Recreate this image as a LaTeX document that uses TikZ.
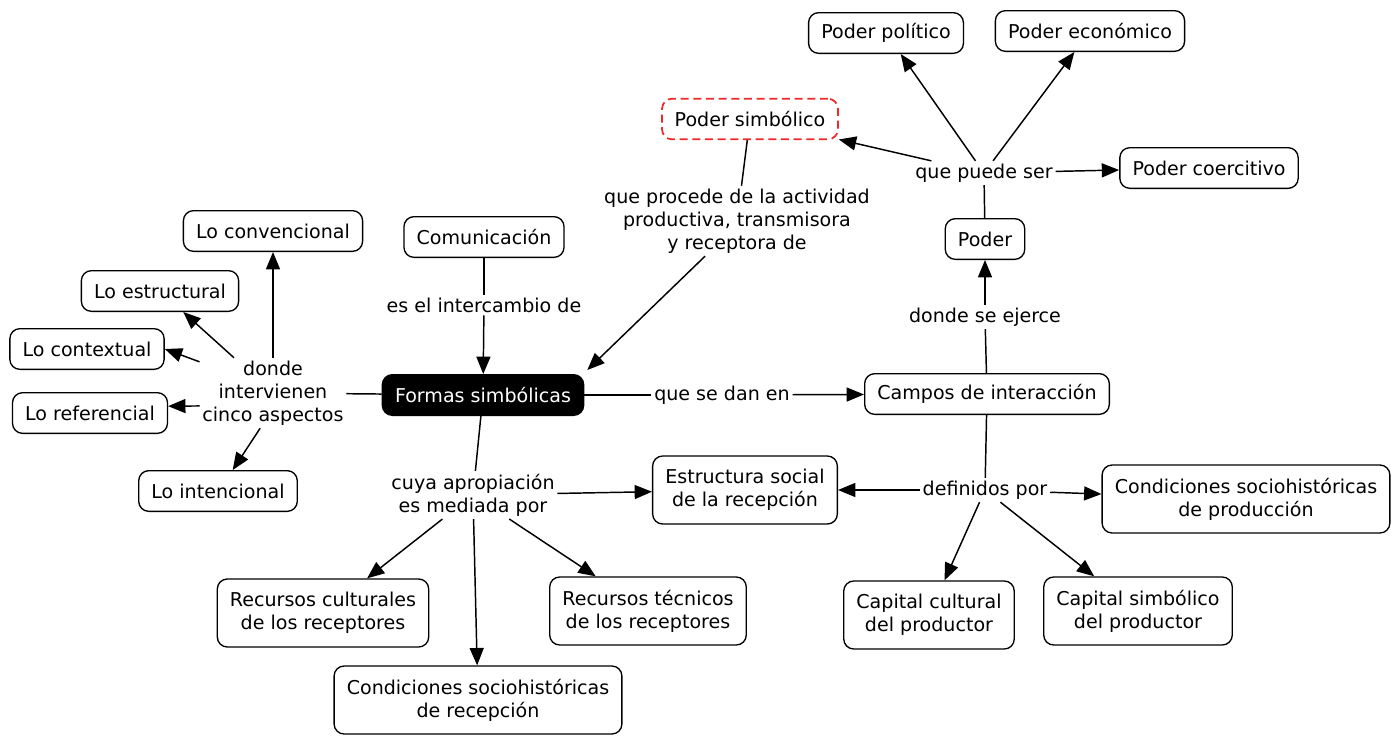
\documentclass[tikz,border=0pt]{standalone}
\usepackage{fontspec}
\setmainfont{DejaVu Sans}
\usetikzlibrary{arrows.meta}
\definecolor{dashred}{RGB}{240,40,40}
\begin{document}
\begin{tikzpicture}[x=0.75pt,y=-0.75pt,
  every node/.style={font=\fontsize{14.3pt}{17.3pt}\selectfont},
  concept/.style={draw, line width=1pt, rounded corners=7.5pt, fill=white,
    align=center, inner xsep=9.5pt, inner ysep=3pt, minimum height=30.5pt},
  two/.style={minimum height=51pt},
  dashedconcept/.style={concept, draw=dashred, line width=1.3pt, dash pattern=on 6pt off 3.5pt},
  dark/.style={concept, fill=black, text=white},
  linkword/.style={align=center, inner sep=2pt},
  link/.style={line width=1.1pt},
  arrow/.style={link, -{Triangle[length=13pt,width=10.5pt]}}
]
\useasboundingbox (0,0) rectangle (1400,736);

% concepts
\node[dashedconcept] (psimb) at (750,119) {Poder simbólico};
\node[concept] (ppol) at (886,33) {Poder político};
\node[concept] (peco) at (1090,31) {Poder económico};
\node[concept] (pcoer) at (1209,168) {Poder coercitivo};
\node[concept] (poder) at (985,239) {Poder};
\node[concept] (comm) at (484,237) {Comunicación};
\node[concept] (conv) at (273,231) {Lo convencional};
\node[concept] (estr) at (160,291) {Lo estructural};
\node[concept] (cont) at (87,349) {Lo contextual};
\node[concept] (refe) at (90,413) {Lo referencial};
\node[concept] (inten) at (218,491) {Lo intencional};
\node[dark] (formas) at (483,395) {Formas simbólicas};
\node[concept] (campos) at (987,394) {Campos de interacción};
\node[concept,two] (estsoc) at (745,490) {Estructura social\\de la recepción};
\node[concept,two] (condprod) at (1246,499) {Condiciones sociohistóricas\\de producción};
\node[concept,two] (rcult) at (323,613) {Recursos culturales\\de los receptores};
\node[concept,two] (rtec) at (648,611) {Recursos técnicos\\de los receptores};
\node[concept,two] (condrec) at (478,700) {Condiciones sociohistóricas\\de recepción};
\node[concept,two] (capcult) at (929,615) {Capital cultural\\del productor};
\node[concept,two] (capsimb) at (1138,611) {Capital simbólico\\del productor};

% linking phrases
\node[linkword] (lpuede) at (984,173) {que puede ser};
\node[linkword] (lproc) at (737,221) {que procede de la actividad\\productiva, transmisora\\y receptora de};
\node[linkword] (linter) at (484,305) {es el intercambio de};
\node[linkword] (lejerce) at (985,317) {donde se ejerce};
\node[linkword] (ldonde) at (273,393) {donde\\intervienen\\cinco aspectos};
\node[linkword] (ldan) at (722,395) {que se dan en};
\node[linkword] (lcuya) at (473,495) {cuya apropiación\\es mediada por};
\node[linkword] (ldef) at (985,490) {definidos por};

% Poder
\draw[link] (poder) -- (lpuede);
\draw[arrow] (lpuede) -- (psimb);
\draw[arrow] (lpuede) -- (ppol);
\draw[arrow] (lpuede) -- (peco);
\draw[arrow] (lpuede) -- (pcoer);

% Poder simbólico
\draw[link] (psimb) -- (lproc);
\draw[arrow] ([shift={(-32,0)}]lproc.south) -- ([shift={(3,-4)}]formas.north east);

% Comunicación
\draw[link] (comm) -- (linter);
\draw[arrow] (linter) -- (formas);

% cinco aspectos
\draw[link] (formas) -- (ldonde);
\draw[arrow] (ldonde.north) -- (conv.south);
\draw[arrow] (ldonde) -- (estr);
\draw[arrow] (ldonde.157) -- (cont.east);
\draw[arrow] (ldonde.190) -- (refe.5);
\draw[arrow] (ldonde.250) -- (inten.55);

% Campos
\draw[link] (formas) -- (ldan);
\draw[arrow] (ldan) -- (campos);
\draw[link] (campos) -- (lejerce);
\draw[arrow] (lejerce) -- (poder);

% apropiación
\draw[link] (formas) -- (lcuya);
\draw[arrow] (lcuya) -- (estsoc);
\draw[arrow] (lcuya) -- (rcult);
\draw[arrow] (lcuya) -- (rtec);
\draw[arrow] (lcuya) -- (condrec);

% definidos por
\draw[link] (campos) -- (ldef);
\draw[arrow] (ldef) -- (estsoc);
\draw[arrow] (ldef) -- (condprod);
\draw[arrow] (ldef) -- (capcult);
\draw[arrow] (ldef) -- (capsimb);
\end{tikzpicture}
\end{document}
